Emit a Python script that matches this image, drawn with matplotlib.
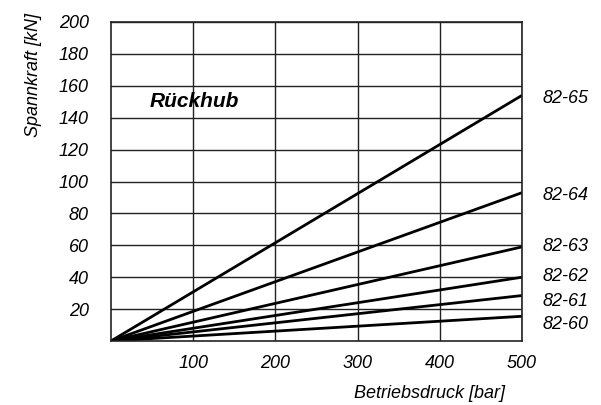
import matplotlib.pyplot as plt
import numpy as np

plt.rcParams['font.family'] = ['Liberation Sans', 'DejaVu Sans']

# pressure range (bar) and force at 500 bar for each cylinder (kN)
druck = [0, 500]
typen = ['82-65', '82-64', '82-63', '82-62', '82-61', '82-60']
kraft_500 = [154, 93, 59, 40, 28.5, 15.5]
label_y = [152, 91.5, 59, 40.5, 24.5, 10.5]

x_ticks = [100, 200, 300, 400, 500]
y_ticks = [20, 40, 60, 80, 100, 120, 140, 160, 180, 200]

fig = plt.figure(figsize=(6.01, 4.05), dpi=100)
ax = fig.add_axes([111 / 601, 1 - 341 / 405, 411 / 601, 319 / 405])

for t, f in zip(typen, kraft_500):
    ax.plot(druck, [0, f], color='black', lw=2, solid_capstyle='butt')

ax.set_xlim(0, 500)
ax.set_ylim(0, 200)
ax.set_xticks(x_ticks)
ax.set_yticks(y_ticks)
ax.set_xticklabels([str(v) for v in x_ticks], fontstyle='italic', fontsize=13)
ax.set_yticklabels([str(v) for v in y_ticks], fontstyle='italic', fontsize=13)
ax.tick_params(length=0, pad=10)
ax.tick_params(axis='y', pad=16)
ax.grid(True, color='#222222', lw=1)
ax.set_axisbelow(True)
for s in ax.spines.values():
    s.set_linewidth(1.2)
    s.set_color('#222222')

for t, ly in zip(typen, label_y):
    ax.text(1.05, ly / 200, t, transform=ax.transAxes, fontstyle='italic',
            fontsize=13, va='center', ha='left')

ax.text(0.095, 0.75, 'Rückhub', transform=ax.transAxes, fontstyle='italic',
        fontweight='bold', fontsize=15, va='center', ha='left')

fig.text(33 / 601, 1 - 75 / 405, 'Spannkraft [kN]', rotation=90, fontstyle='italic',
         fontsize=13, va='center', ha='center')
fig.text(430 / 601, 1 - 393 / 405, 'Betriebsdruck [bar]', fontstyle='italic',
         fontsize=13, va='center', ha='center')

fig.savefig('out.png', dpi=100)
